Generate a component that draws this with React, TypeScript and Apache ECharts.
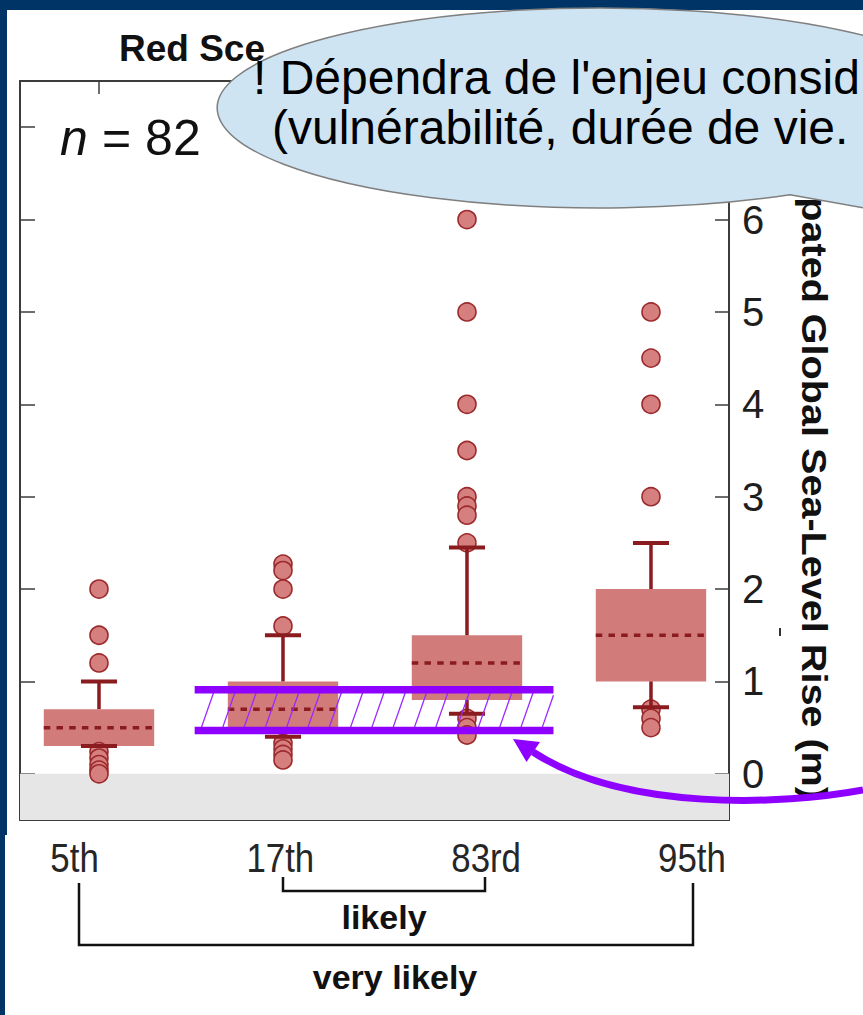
import React, { useEffect, useRef } from "react";
import * as echarts from "echarts";

// ---------- data ----------
const categories = ["5th", "17th", "83rd", "95th"];
const positions = [1, 2, 3, 4];
const whiskerLow = [0.3, 0.4, 0.65, 0.72];
const boxQ1 = [0.3, 0.5, 0.8, 1.0];
const boxMedian = [0.5, 0.7, 1.2, 1.5];
const boxQ3 = [0.7, 1.0, 1.5, 2.0];
const whiskerHigh = [1.0, 1.5, 2.45, 2.5];
const outliers5th = [2.0, 1.5, 1.2, 0.24, 0.17, 0.1, 0.04, 0.0];
const outliers17th = [2.27, 2.2, 2.0, 1.6, 0.33, 0.27, 0.21, 0.15];
const outliers83rd = [6.0, 5.0, 4.0, 3.5, 3.0, 2.9, 2.8, 2.5, 0.6, 0.5, 0.42];
const outliers95th = [5.0, 4.5, 4.0, 3.0, 0.7, 0.6, 0.5];
const outlierGroups = [outliers5th, outliers17th, outliers83rd, outliers95th];
const yTickValues = [0, 1, 2, 3, 4, 5, 6, 7];
const yLabelValues = [0, 1, 2, 3, 4, 5, 6];
const belowZeroBand = [-0.5, 0];
const hatchBandX = [1.52, 3.47];
const hatchBandY = [0.47, 0.91];
const sampleSize = 82;
const titleText = "Red Sce";
const yAxisTitle = "Anticipated Global Sea-Level Rise (m)";
const bubbleLines = ["! Dépendra de l'enjeu consid", "(vulnérabilité, durée de vie."];
const rangeLabels = ["likely", "very likely"];

// ---------- styles ----------
const BLUE = "#013466";
const SANS = "'Liberation Sans', Arial, Helvetica, sans-serif";
const AXIS = "#3c3c3c";
const BOX_FILL = "#d27b7b";
const DARK_RED = "#8a1b1f";
const PURPLE = "#8e00ff";
const BOX_HALF = 0.3;
const CAP_HALF = 0.098;

const BUBBLE_PATH =
  "M790 194.8 L1040 239 L913.7 165.4 A383 100 0 1 0 790 194.8 Z";
echarts.graphic.registerShape("speechBubble", echarts.graphic.extendPath(BUBBLE_PATH, {}));

function txt(x: number, y: number, text: string, o: any = {}, el: any = {}) {
  return {
    type: "text",
    x,
    y,
    z: o.z ?? 20,
    ...el,
    style: {
      text,
      fill: o.fill ?? "#111",
      fontSize: o.size ?? 30,
      fontWeight: o.weight ?? "normal",
      fontStyle: o.style ?? "normal",
      fontFamily: o.family ?? SANS,
      textAlign: o.align ?? "left",
      align: o.align ?? "left",
      textVerticalAlign: "middle",
      verticalAlign: "middle",
    },
  };
}

function buildOption(): any {
  const scatterData: number[][] = [];
  outlierGroups.forEach((g, i) => g.forEach((v) => scatterData.push([positions[i], v])));

  const axisBase = {
    type: "value",
    gridIndex: 0,
    splitLine: { show: false },
    axisLine: { show: true, onZero: false, lineStyle: { color: AXIS, width: 2 } },
  };

  return {
    animation: false,
    grid: { left: 20, top: 81, width: 709, height: 739, containLabel: false },
    xAxis: [
      {
        ...axisBase,
        position: "bottom",
        min: 0.5707,
        max: 4.424,
        axisTick: { show: true, inside: true, length: 12, customValues: positions, lineStyle: { color: AXIS, width: 1.5 } },
        axisLabel: { show: false },
      },
      {
        ...axisBase,
        position: "top",
        min: 0.5707,
        max: 4.424,
        axisTick: { show: true, inside: true, length: 13, customValues: positions, lineStyle: { color: AXIS, width: 1.5 } },
        axisLabel: { show: false },
      },
      {
        // axis that positions the category labels (they sit wider apart than the ticks)
        type: "value",
        gridIndex: 0,
        position: "bottom",
        min: 0.735,
        max: 4.18,
        splitLine: { show: false },
        axisLine: { show: false },
        axisTick: { show: false },
        axisLabel: { show: false },
      },
    ],
    yAxis: [
      {
        ...axisBase,
        position: "left",
        min: -0.5,
        max: 7.5,
        axisTick: { show: true, inside: true, length: 15, customValues: yTickValues, lineStyle: { color: AXIS, width: 1.5 } },
        axisLabel: { show: false },
      },
      {
        ...axisBase,
        position: "right",
        min: -0.5,
        max: 7.5,
        axisTick: { show: true, inside: true, length: 14, customValues: yTickValues, lineStyle: { color: AXIS, width: 1.5 } },
        axisLabel: {
          show: true,
          customValues: yLabelValues,
          margin: 13,
          fontSize: 40,
          fontFamily: SANS,
          color: "#1e1e1e",
        },
      },
    ],
    series: [
      {
        type: "custom",
        name: "below zero",
        xAxisIndex: 0,
        yAxisIndex: 0,
        z: 1,
        silent: true,
        data: [belowZeroBand],
        renderItem: (params: any, api: any) => {
          const cs = params.coordSys;
          const top = api.coord([1, api.value(1)])[1];
          const bottom = api.coord([1, api.value(0)])[1];
          return {
            type: "rect",
            shape: { x: cs.x, y: top, width: cs.width, height: bottom - top },
            style: { fill: "#e6e6e6" },
          };
        },
      },
      {
        type: "custom",
        name: "box",
        xAxisIndex: 0,
        yAxisIndex: 0,
        z: 2,
        silent: true,
        data: positions.map((p, i) => [p, boxQ1[i], boxQ3[i]]),
        renderItem: (params: any, api: any) => {
          const x = api.value(0);
          const a = api.coord([x - BOX_HALF, api.value(2)]);
          const b = api.coord([x + BOX_HALF, api.value(1)]);
          return {
            type: "rect",
            shape: { x: a[0], y: a[1], width: b[0] - a[0], height: b[1] - a[1] },
            style: { fill: BOX_FILL },
          };
        },
      },
      {
        type: "scatter",
        name: "outliers",
        xAxisIndex: 0,
        yAxisIndex: 0,
        z: 3,
        silent: true,
        symbol: "circle",
        symbolSize: 18,
        itemStyle: { color: "#d67f7f", borderColor: "#9c2a2c", borderWidth: 1.6, opacity: 1 },
        data: scatterData,
      },
      {
        type: "custom",
        name: "whiskers",
        xAxisIndex: 0,
        yAxisIndex: 0,
        z: 4,
        silent: true,
        data: positions.map((p, i) => [p, whiskerLow[i], boxQ1[i], boxMedian[i], boxQ3[i], whiskerHigh[i]]),
        renderItem: (params: any, api: any) => {
          const x = api.value(0);
          const lo = api.coord([x, api.value(1)]);
          const q1 = api.coord([x, api.value(2)]);
          const q3 = api.coord([x, api.value(4)]);
          const hi = api.coord([x, api.value(5)]);
          const capL = api.coord([x - CAP_HALF, api.value(1)])[0];
          const capR = api.coord([x + CAP_HALF, api.value(1)])[0];
          const mL = api.coord([x - BOX_HALF, api.value(3)]);
          const mR = api.coord([x + BOX_HALF, api.value(3)]);
          const st = { stroke: DARK_RED, lineWidth: 3.5 };
          return {
            type: "group",
            children: [
              { type: "line", shape: { x1: q3[0], y1: q3[1], x2: hi[0], y2: hi[1] }, style: st },
              { type: "line", shape: { x1: q1[0], y1: q1[1], x2: lo[0], y2: lo[1] }, style: st },
              { type: "line", shape: { x1: capL, y1: hi[1], x2: capR, y2: hi[1] }, style: { stroke: DARK_RED, lineWidth: 4 } },
              { type: "line", shape: { x1: capL, y1: lo[1], x2: capR, y2: lo[1] }, style: { stroke: DARK_RED, lineWidth: 4 } },
              {
                type: "line",
                shape: { x1: mL[0], y1: mL[1], x2: mR[0], y2: mR[1] },
                style: { stroke: DARK_RED, lineWidth: 3.5, lineDash: [6.5, 6.2] },
              },
            ],
          };
        },
      },
      {
        type: "custom",
        name: "hatch band",
        xAxisIndex: 0,
        yAxisIndex: 0,
        z: 5,
        silent: true,
        data: [[hatchBandX[0], hatchBandX[1], hatchBandY[0], hatchBandY[1]]],
        renderItem: (params: any, api: any) => {
          const tl = api.coord([api.value(0), api.value(3)]);
          const br = api.coord([api.value(1), api.value(2)]);
          const left = tl[0], right = br[0], top = tl[1], bottom = br[1];
          const h = bottom - top;
          const dx = h * 0.35;
          const spacing = 21.3;
          const children: any[] = [];
          for (let k = -3; k < 40; k++) {
            let xs = left + 5.7 + k * spacing;
            let ys = bottom;
            let xe = xs + dx;
            let ye = top;
            if (xs > right) break;
            if (xe < left) continue;
            if (xs < left) {
              const t = (left - xs) / dx;
              xs = left;
              ys = bottom - t * h;
            }
            if (xe > right) {
              const t = (xe - right) / dx;
              xe = right;
              ye = top + t * h;
            }
            children.push({ type: "line", shape: { x1: xs, y1: ys, x2: xe, y2: ye }, style: { stroke: "#9a28ff", lineWidth: 1.3 } });
          }
          children.push({ type: "line", shape: { x1: left, y1: top, x2: right, y2: top }, style: { stroke: PURPLE, lineWidth: 7.5 } });
          children.push({ type: "line", shape: { x1: left, y1: bottom, x2: right, y2: bottom }, style: { stroke: PURPLE, lineWidth: 7.5 } });
          return { type: "group", children };
        },
      },
    ],
  };
}

function buildGraphic(labelXs: number[]): any {
  const catLabels = categories.map((c, i) =>
    txt(labelXs[i], 858, c, { size: 40, align: "center", fill: "#262626" }, { scaleX: 0.87 })
  );
  return {
    elements: [
      txt(119, 48, titleText, { size: 37, weight: "bold", z: 20 }),
      txt(60, 138, "n", { size: 50, style: "italic" }),
      txt(102, 138, `= ${sampleSize}`, { size: 50 }),
      txt(814, 800, yAxisTitle, { size: 36, weight: "bold", align: "right", z: 20 }, { rotation: -Math.PI / 2, scaleX: 1.1 }),
      ...catLabels,
      {
        type: "line",
        z: 20,
        shape: { x1: 780, y1: 628, x2: 780, y2: 636 },
        style: { stroke: "#333", lineWidth: 2 },
      },
      {
        type: "polyline",
        z: 20,
        shape: { points: [[283, 877], [283, 891], [485, 891], [485, 877]] },
        style: { stroke: "#111", lineWidth: 2.5, fill: null },
      },
      {
        type: "polyline",
        z: 20,
        shape: { points: [[79, 883], [79, 945], [693, 945], [693, 883]] },
        style: { stroke: "#111", lineWidth: 2.5, fill: null },
      },
      txt(384, 917, rangeLabels[0], { size: 34, weight: "bold", align: "center" }),
      txt(395, 977, rangeLabels[1], { size: 34, weight: "bold", align: "center" }),
      {
        type: "bezierCurve",
        z: 60,
        shape: { x1: 863, y1: 790, cpx1: 783, cpy1: 805, cpx2: 625, cpy2: 812, x2: 533, y2: 752 },
        style: { stroke: PURPLE, lineWidth: 7, fill: null },
      },
      {
        type: "polygon",
        z: 60,
        shape: { points: [[513, 739], [540, 742], [526.5, 762]] },
        style: { fill: PURPLE },
      },
      {
        type: "speechBubble",
        z: 100,
        x: 0,
        y: 0,
        style: { fill: "#cfe4f3", stroke: "#7f7f7f", lineWidth: 1.5 },
      },
      txt(253, 77, bubbleLines[0], { size: 48, z: 101, fill: "#000" }),
      txt(272, 127, bubbleLines[1], { size: 48, z: 101, fill: "#000" }),
    ],
  };
}

export default function App() {
  const ref = useRef<HTMLDivElement>(null);
  useEffect(() => {
    if (!ref.current) return;
    const chart = echarts.init(ref.current, null, { renderer: "svg" });
    chart.setOption(buildOption());
    const labelXs = positions.map((p) => Number(chart.convertToPixel({ xAxisIndex: 2 }, p)));
    chart.setOption({ graphic: buildGraphic(labelXs) });
    return () => chart.dispose();
  }, []);
  return (
    <div style={{ position: "fixed", left: 0, top: 0, width: 863, height: 1015, background: BLUE, overflow: "hidden" }}>
      <div style={{ position: "absolute", left: 7, top: 10, width: 856, height: 1005, background: "#ffffff" }} />
      <div style={{ position: "absolute", left: 5, top: 835, width: 10, height: 180, background: "#ffffff" }} />
      <div ref={ref} style={{ position: "absolute", left: 0, top: 0, width: 863, height: 1015 }} />
    </div>
  );
}
